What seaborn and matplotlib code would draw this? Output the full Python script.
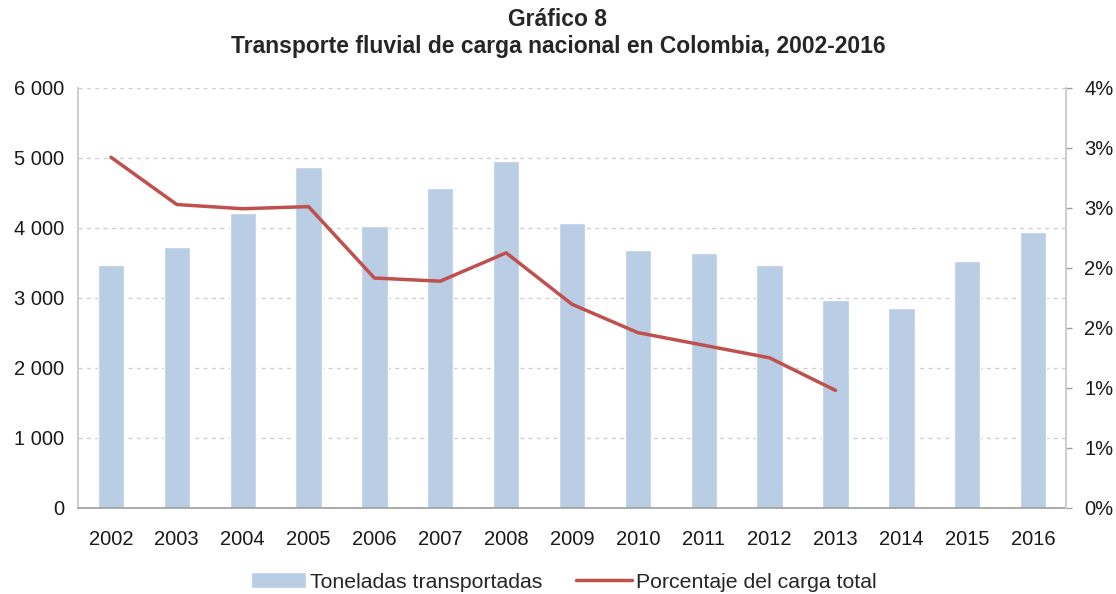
import numpy as np
import pandas as pd
import matplotlib
matplotlib.use("Agg")
import matplotlib.pyplot as plt
import seaborn as sns
from matplotlib.ticker import FuncFormatter, FixedLocator

years = ["2002", "2003", "2004", "2005", "2006", "2007", "2008", "2009",
         "2010", "2011", "2012", "2013", "2014", "2015", "2016"]
toneladas = [3476, 3723, 4214, 4871, 4029, 4571, 4951, 4071,
             3690, 3647, 3476, 2966, 2851, 3523, 3937]
pct_years = ["2002", "2003", "2004", "2005", "2006", "2007", "2008", "2009",
             "2010", "2011", "2012", "2013"]
porcentaje = [3.34, 2.89, 2.85, 2.87, 2.19, 2.16, 2.43, 1.94,
              1.67, 1.55, 1.43, 1.12]

title = "Gráfico 8\nTransporte fluvial de carga nacional en Colombia, 2002-2016"
bar_label = "Toneladas transportadas"
line_label = "Porcentaje del carga total"

sns.set_theme(style="white")
plt.rcParams["font.family"] = ["Liberation Sans", "DejaVu Sans"]

bar_color = "#B9CDE5"
line_color = "#C0504D"
text_color = "#1a1a1a"

fig = plt.figure(figsize=(11.16, 5.94), dpi=100)
ax = fig.add_axes([0.0699, 0.1448, 0.8853, 0.7071])

df_bar = pd.DataFrame({"year": years, "t": toneladas})
sns.barplot(data=df_bar, x="year", y="t", color=bar_color, width=0.4,
            saturation=1, ax=ax, label=bar_label, zorder=2)
ax.set_xlim(-0.5, len(years) - 0.5)
ax.set_ylim(0, 6000)
ax.yaxis.set_major_locator(FixedLocator(np.arange(0, 6001, 1000)))
ax.yaxis.set_major_formatter(FuncFormatter(lambda v, p: f"{int(v):,}".replace(",", " ")))
ax.grid(axis="y", color="#D0D0D0", linestyle=(0, (3, 3)), linewidth=1.0, zorder=0)
ax.set_axisbelow(True)
ax.set_xlabel("")
ax.set_ylabel("")
ax.tick_params(axis="y", labelsize=14.5, colors=text_color, length=0, pad=10)
ax.tick_params(axis="x", labelsize=14.5, colors=text_color, length=0, pad=16)
for s in ["top", "right"]:
    ax.spines[s].set_visible(False)
ax.spines["left"].set_color("#C8C8C8")
ax.spines["bottom"].set_color("#A0A0A0")

ax2 = ax.twinx()
df_line = pd.DataFrame({"pos": [years.index(y) for y in pct_years], "p": porcentaje})
sns.lineplot(data=df_line, x="pos", y="p", color=line_color, linewidth=2.5,
             ax=ax2, label=line_label, legend=False)
ax2.set_ylim(0, 4)
ax2.yaxis.set_major_locator(FixedLocator(np.linspace(0, 4, 8)))
ax2.yaxis.set_major_formatter(FuncFormatter(lambda v, p: f"{round(v):.0f}%"))
ax2.set_ylabel("")
ax2.set_xlabel("")
ax2.tick_params(axis="y", labelsize=14.5, labelcolor=text_color, length=4, width=1,
                pad=9, color="#A0A0A0")
for s in ["top", "left", "bottom"]:
    ax2.spines[s].set_visible(False)
ax2.spines["right"].set_color("#C8C8C8")
ax2.set_xlim(-0.5, len(years) - 0.5)
ax2.grid(False)

h1, l1 = ax.get_legend_handles_labels()
h2, l2 = ax2.get_legend_handles_labels()
if ax.get_legend():
    ax.get_legend().remove()
fig.legend(h1 + h2, l1 + l2, loc="lower center", bbox_to_anchor=(0.505, -0.028),
           ncol=2, frameon=False, fontsize=15.3, handlelength=2.6,
           handleheight=0.8, handletextpad=0.2, columnspacing=1.6)

fig.suptitle(title, fontsize=16.5, fontweight="bold", y=0.987, linespacing=1.25)

fig.savefig("out.png", dpi=100)
